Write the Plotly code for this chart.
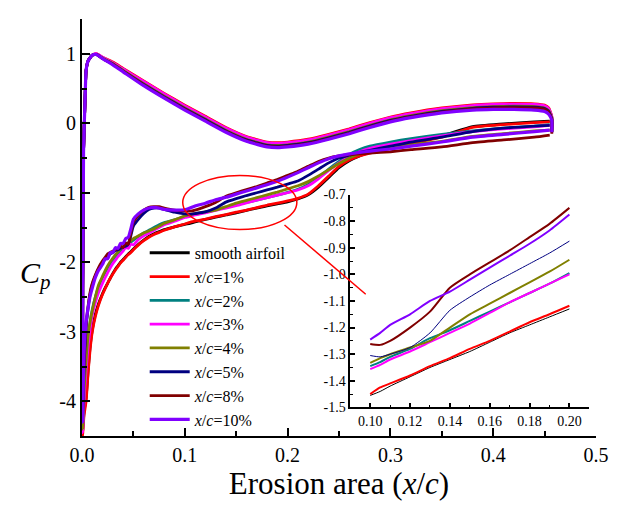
import plotly.graph_objects as go

# ---------------- data ----------------
SERIES = ["smooth airfoil", "x/c=1%", "x/c=2%", "x/c=3%", "x/c=4%", "x/c=5%", "x/c=8%", "x/c=10%"]
LEGEND_TEXT = ["smooth airfoil", "<i>x</i>/<i>c</i>=1%", "<i>x</i>/<i>c</i>=2%", "<i>x</i>/<i>c</i>=3%",
               "<i>x</i>/<i>c</i>=4%", "<i>x</i>/<i>c</i>=5%", "<i>x</i>/<i>c</i>=8%", "<i>x</i>/<i>c</i>=10%"]
COLORS = ["#000000", "#FF0000", "#008080", "#FF00FF", "#808000", "#000080", "#800000", "#8000FF"]

# upper branch (trailing edge -> leading edge)
X_UP = [0.457, 0.457, 0.454, 0.45, 0.44, 0.42, 0.40, 0.38, 0.35, 0.32, 0.30, 0.28, 0.26, 0.24, 0.22,
        0.20, 0.19, 0.18, 0.16, 0.14, 0.12, 0.10, 0.08, 0.06, 0.04, 0.03, 0.02, 0.014, 0.01, 0.006,
        0.004, 0.003, 0.0015]
cp_up_smooth = [-0.12, 0.08, 0.19, 0.23, 0.25, 0.255, 0.25, 0.235, 0.19, 0.12, 0.06, -0.02, -0.11, -0.19, -0.26,
                -0.30, -0.31, -0.30, -0.22, -0.09, 0.07, 0.23, 0.40, 0.58, 0.77, 0.86, 0.94, 0.99, 0.98, 0.90,
                0.76, 0.35, -0.40]
cp_up_1 = [-0.10, 0.10, 0.22, 0.26, 0.28, 0.285, 0.28, 0.265, 0.22, 0.15, 0.09, 0.01, -0.08, -0.16, -0.23,
           -0.27, -0.28, -0.27, -0.19, -0.06, 0.10, 0.26, 0.43, 0.61, 0.79, 0.88, 0.95, 1.00, 0.98, 0.90,
           0.76, 0.35, -0.40]
cp_up_2 = [-0.12, 0.08, 0.20, 0.24, 0.26, 0.265, 0.26, 0.245, 0.20, 0.13, 0.07, -0.01, -0.10, -0.18, -0.25,
           -0.29, -0.30, -0.29, -0.21, -0.08, 0.08, 0.24, 0.41, 0.59, 0.77, 0.86, 0.94, 0.99, 0.98, 0.90,
           0.76, 0.35, -0.40]
cp_up_3 = [-0.11, 0.09, 0.21, 0.25, 0.27, 0.275, 0.27, 0.255, 0.21, 0.14, 0.08, 0.00, -0.09, -0.17, -0.24,
           -0.28, -0.29, -0.28, -0.20, -0.07, 0.09, 0.25, 0.42, 0.60, 0.78, 0.87, 0.95, 1.00, 0.98, 0.90,
           0.76, 0.35, -0.40]
cp_up_4 = [-0.13, 0.07, 0.18, 0.22, 0.24, 0.245, 0.24, 0.225, 0.18, 0.11, 0.05, -0.03, -0.12, -0.20, -0.27,
           -0.31, -0.32, -0.31, -0.23, -0.10, 0.06, 0.22, 0.39, 0.57, 0.76, 0.86, 0.94, 0.99, 0.98, 0.90,
           0.76, 0.35, -0.40]
cp_up_5 = [-0.13, 0.06, 0.17, 0.21, 0.23, 0.235, 0.23, 0.215, 0.17, 0.10, 0.04, -0.04, -0.13, -0.21, -0.28,
           -0.32, -0.33, -0.32, -0.24, -0.11, 0.05, 0.21, 0.38, 0.56, 0.75, 0.85, 0.93, 0.99, 0.98, 0.90,
           0.76, 0.35, -0.40]
cp_up_8 = [-0.15, 0.05, 0.16, 0.20, 0.22, 0.225, 0.22, 0.205, 0.16, 0.09, 0.03, -0.05, -0.14, -0.22, -0.29,
           -0.33, -0.34, -0.33, -0.25, -0.12, 0.04, 0.20, 0.37, 0.55, 0.75, 0.85, 0.93, 0.99, 0.98, 0.90,
           0.76, 0.35, -0.40]
cp_up_10 = [-0.13, 0.04, 0.13, 0.17, 0.19, 0.20, 0.20, 0.19, 0.15, 0.08, 0.02, -0.06, -0.15, -0.23, -0.30,
            -0.34, -0.35, -0.34, -0.26, -0.13, 0.03, 0.19, 0.36, 0.54, 0.74, 0.84, 0.93, 0.99, 0.98, 0.90,
            0.76, 0.35, -0.40]

# lower branch (leading edge -> trailing edge)
X_LOW = [0.0005, 0.002, 0.004, 0.006, 0.008, 0.010, 0.013, 0.016,
         0.020, 0.0225, 0.025, 0.0275, 0.030, 0.0325, 0.035, 0.0375, 0.040, 0.0425, 0.045, 0.0475, 0.050,
         0.055, 0.060, 0.065, 0.070, 0.075, 0.080, 0.090,
         0.100, 0.105, 0.110, 0.120, 0.130, 0.140, 0.150, 0.160, 0.170, 0.180, 0.190, 0.200,
         0.210, 0.220, 0.230, 0.240, 0.250, 0.260, 0.270, 0.280, 0.300, 0.320, 0.350, 0.380, 0.410, 0.440, 0.455]
cp_low_smooth = [-4.45, -4.15, -3.95, -3.55, -3.20, -2.97, -2.75, -2.60,
                 -2.45, -2.37, -2.30, -2.23, -2.16, -2.10, -2.05, -2.00, -1.96, -1.92, -1.88, -1.85, -1.81,
                 -1.74, -1.68, -1.63, -1.59, -1.56, -1.53, -1.49,
                 -1.455, -1.44, -1.42, -1.385, -1.35, -1.32, -1.29, -1.255, -1.22, -1.19, -1.16, -1.13,
                 -1.09, -1.03, -0.92, -0.78, -0.64, -0.54, -0.47, -0.42, -0.34, -0.27, -0.18, -0.05, -0.01, 0.02, 0.03]
cp_low_1 = [-4.50, -4.20, -4.00, -3.58, -3.24, -3.00, -2.78, -2.62,
            -2.46, -2.38, -2.30, -2.23, -2.17, -2.11, -2.06, -2.01, -1.97, -1.93, -1.89, -1.86, -1.82,
            -1.75, -1.69, -1.64, -1.60, -1.57, -1.54, -1.49,
            -1.45, -1.425, -1.41, -1.38, -1.345, -1.315, -1.28, -1.25, -1.215, -1.18, -1.15, -1.118,
            -1.08, -1.02, -0.90, -0.76, -0.62, -0.53, -0.47, -0.43, -0.36, -0.29, -0.20, -0.06, -0.02, 0.01, 0.02]
cp_low_2 = [-4.40, -3.90, -3.45, -3.10, -2.85, -2.68, -2.50, -2.36,
            -2.22, -2.15, -2.08, -2.02, -1.97, -1.92, -1.88, -1.84, -1.81, -1.77, -1.74, -1.71, -1.68,
            -1.63, -1.58, -1.54, -1.50, -1.46, -1.43, -1.39,
            -1.345, -1.33, -1.31, -1.28, -1.24, -1.21, -1.175, -1.14, -1.105, -1.07, -1.035, -0.995,
            -0.95, -0.88, -0.78, -0.66, -0.55, -0.45, -0.38, -0.33, -0.27, -0.22, -0.16, -0.11, -0.07, -0.04, -0.02]
cp_low_3 = [-4.45, -4.00, -3.55, -3.20, -2.95, -2.76, -2.58, -2.44,
            -2.30, -2.22, -2.15, -2.08, -2.02, -1.97, -1.92, -1.88, -1.84, -1.79, -1.80, -1.74, -1.75,
            -1.67, -1.62, -1.58, -1.54, -1.50, -1.46, -1.41,
            -1.356, -1.34, -1.32, -1.29, -1.255, -1.22, -1.185, -1.145, -1.105, -1.07, -1.035, -1.00,
            -0.96, -0.90, -0.80, -0.68, -0.57, -0.48, -0.41, -0.36, -0.30, -0.25, -0.18, -0.12, -0.08, -0.05, -0.03]
cp_low_4 = [-4.40, -3.85, -3.40, -3.05, -2.85, -2.70, -2.50, -2.33,
            -2.20, -2.12, -2.05, -1.99, -1.94, -1.89, -1.85, -1.81, -1.78, -1.75, -1.72, -1.69, -1.66,
            -1.62, -1.58, -1.55, -1.52, -1.48, -1.44, -1.39,
            -1.333, -1.315, -1.30, -1.275, -1.25, -1.20, -1.15, -1.11, -1.07, -1.03, -0.99, -0.945,
            -0.90, -0.84, -0.76, -0.67, -0.58, -0.50, -0.44, -0.40, -0.35, -0.31, -0.26, -0.19, -0.15, -0.11, -0.10]
cp_low_5 = [-4.30, -3.50, -2.95, -2.65, -2.45, -2.32, -2.20, -2.10,
            -2.00, -1.96, -1.92, -1.88, -1.86, -1.83, -1.82, -1.80, -1.78, -1.77, -1.74, -1.62, -1.48,
            -1.38, -1.30, -1.24, -1.22, -1.22, -1.24, -1.28,
            -1.305, -1.31, -1.30, -1.275, -1.22, -1.135, -1.085, -1.04, -1.00, -0.96, -0.92, -0.875,
            -0.83, -0.75, -0.66, -0.57, -0.50, -0.46, -0.42, -0.39, -0.33, -0.27, -0.20, -0.12, -0.07, -0.04, -0.03]
cp_low_8 = [-4.20, -3.40, -2.90, -2.62, -2.42, -2.30, -2.18, -2.08,
            -1.98, -1.93, -1.88, -1.86, -1.84, -1.82, -1.80, -1.77, -1.79, -1.72, -1.74, -1.58, -1.42,
            -1.32, -1.25, -1.21, -1.20, -1.20, -1.22, -1.25,
            -1.262, -1.265, -1.25, -1.20, -1.14, -1.05, -1.00, -0.955, -0.91, -0.86, -0.81, -0.75,
            -0.69, -0.62, -0.55, -0.50, -0.47, -0.45, -0.44, -0.43, -0.41, -0.38, -0.34, -0.28, -0.24, -0.20, -0.17]
cp_low_10 = [-4.30, -3.30, -2.85, -2.65, -2.48, -2.37, -2.22, -2.12,
             -2.03, -1.95, -1.95, -1.86, -1.86, -1.79, -1.80, -1.73, -1.73, -1.66, -1.64, -1.52, -1.38,
             -1.30, -1.25, -1.22, -1.21, -1.22, -1.24, -1.25,
             -1.245, -1.22, -1.19, -1.15, -1.10, -1.065, -1.02, -0.975, -0.93, -0.885, -0.835, -0.775,
             -0.71, -0.64, -0.57, -0.51, -0.47, -0.44, -0.42, -0.40, -0.37, -0.33, -0.27, -0.20, -0.16, -0.12, -0.10]

CP_UP = [cp_up_smooth, cp_up_1, cp_up_2, cp_up_3, cp_up_4, cp_up_5, cp_up_8, cp_up_10]
CP_LOW = [cp_low_smooth, cp_low_1, cp_low_2, cp_low_3, cp_low_4, cp_low_5, cp_low_8, cp_low_10]

MAIN_TICKS_X = [0.0, 0.1, 0.2, 0.3, 0.4, 0.5]
MAIN_TICKTEXT_X = ["0.0", "0.1", "0.2", "0.3", "0.4", "0.5"]
MAIN_TICKS_Y = [1, 0, -1, -2, -3, -4]
MAIN_TICKTEXT_Y = ["1", "0", "-1", "-2", "-3", "-4"]
INSET_TICKS_X = [0.10, 0.12, 0.14, 0.16, 0.18, 0.20]
INSET_TICKTEXT_X = ["0.10", "0.12", "0.14", "0.16", "0.18", "0.20"]
INSET_TICKS_Y = [-1.5, -1.4, -1.3, -1.2, -1.1, -1.0, -0.9, -0.8, -0.7]
INSET_TICKTEXT_Y = ["-1.5", "-1.4", "-1.3", "-1.2", "-1.1", "-1.0", "-0.9", "-0.8", "-0.7"]
INSET_XMIN, INSET_XMAX = 0.10, 0.20

FONT = "Liberation Serif"

fig = go.Figure()

for name, leg, col, up, low in zip(SERIES, LEGEND_TEXT, COLORS, CP_UP, CP_LOW):
    fig.add_trace(go.Scatter(
        x=X_UP + X_LOW, y=up + low, mode="lines", name=leg,
        line=dict(color=col, width=3.2 if col == "#8000FF" else 2.8, shape="spline", smoothing=0.5),
        xaxis="x", yaxis="y", showlegend=True))

for name, col, low in zip(SERIES, COLORS, CP_LOW):
    xi = [x for x in X_LOW if INSET_XMIN - 1e-9 <= x <= INSET_XMAX + 1e-9]
    yi = [y for x, y in zip(X_LOW, low) if INSET_XMIN - 1e-9 <= x <= INSET_XMAX + 1e-9]
    w = 1.0 if col in ("#000000", "#000080") else 2.0
    fig.add_trace(go.Scatter(
        x=xi, y=yi, mode="lines", line=dict(color=col, width=w, shape="spline", smoothing=0.6),
        xaxis="x2", yaxis="y2", showlegend=False, hoverinfo="skip"))

axis_common = dict(showline=True, linecolor="black", showgrid=False, zeroline=False,
                   ticks="inside", tickcolor="black", mirror=False)

fig.update_layout(
    width=621, height=507,
    margin=dict(l=82, r=14, t=13, b=71),
    paper_bgcolor="white", plot_bgcolor="rgba(0,0,0,0)",
    font=dict(family=FONT, color="black"),
    xaxis=dict(**axis_common, range=[0, 0.5], linewidth=2, tickwidth=2, ticklen=8,
               tickvals=MAIN_TICKS_X, ticktext=MAIN_TICKTEXT_X, tickfont=dict(size=20, family=FONT),
               minor=dict(dtick=0.05, ticklen=5, tickwidth=2, ticks="inside", tickcolor="black"),
               title=dict(text="Erosion area (<i>x</i>/<i>c</i>)", font=dict(size=31, family=FONT), standoff=4),
               domain=[0, 1]),
    yaxis=dict(**axis_common, range=[-4.5, 1.5], linewidth=2, tickwidth=2, ticklen=8,
               tickvals=MAIN_TICKS_Y, ticktext=MAIN_TICKTEXT_Y, tickfont=dict(size=20, family=FONT),
               minor=dict(dtick=0.5, ticklen=5, tickwidth=2, ticks="inside", tickcolor="black"),
               domain=[0, 1]),
    xaxis2=dict(**axis_common, range=[0.09, 0.21], linewidth=1.5, tickwidth=1.5, ticklen=5,
                tickvals=INSET_TICKS_X, ticktext=INSET_TICKTEXT_X, tickfont=dict(size=14, family=FONT),
                minor=dict(dtick=0.01, ticklen=3, tickwidth=1.2, ticks="inside", tickcolor="black"),
                domain=[0.522, 0.987], anchor="y2"),
    yaxis2=dict(**axis_common, range=[-1.5, -0.7], linewidth=1.5, tickwidth=1.5, ticklen=5,
                tickvals=INSET_TICKS_Y, ticktext=INSET_TICKTEXT_Y, tickfont=dict(size=14, family=FONT),
                minor=dict(dtick=0.05, ticklen=3, tickwidth=1.2, ticks="inside", tickcolor="black"),
                domain=[0.0686, 0.579], anchor="x2"),
    legend=dict(x=0.122, y=0.48, xanchor="left", yanchor="top", bgcolor="rgba(0,0,0,0)",
                font=dict(size=16, family=FONT), tracegroupgap=0, itemwidth=40),
    showlegend=True,
)

# y-axis title C_p (upright C with subscript p, as in the reference)
fig.add_annotation(xref="paper", yref="paper", x=-0.0914, y=0.385, xanchor="center", yanchor="middle",
                   text="<i>C<sub>p</sub></i>",
                   showarrow=False, textangle=0, font=dict(size=30, family=FONT))

# ellipse marking the zoomed region and its pointer to the inset
fig.add_shape(type="circle", xref="x", yref="y", x0=0.098, x1=0.209, y0=-1.53, y1=-0.75,
              line=dict(color="#FF0000", width=1.5))
fig.add_shape(type="line", xref="paper", yref="paper", x0=0.394, y0=0.506, x1=0.552, y1=0.34,
              line=dict(color="#FF0000", width=1.5))

fig.write_html("out.html")
